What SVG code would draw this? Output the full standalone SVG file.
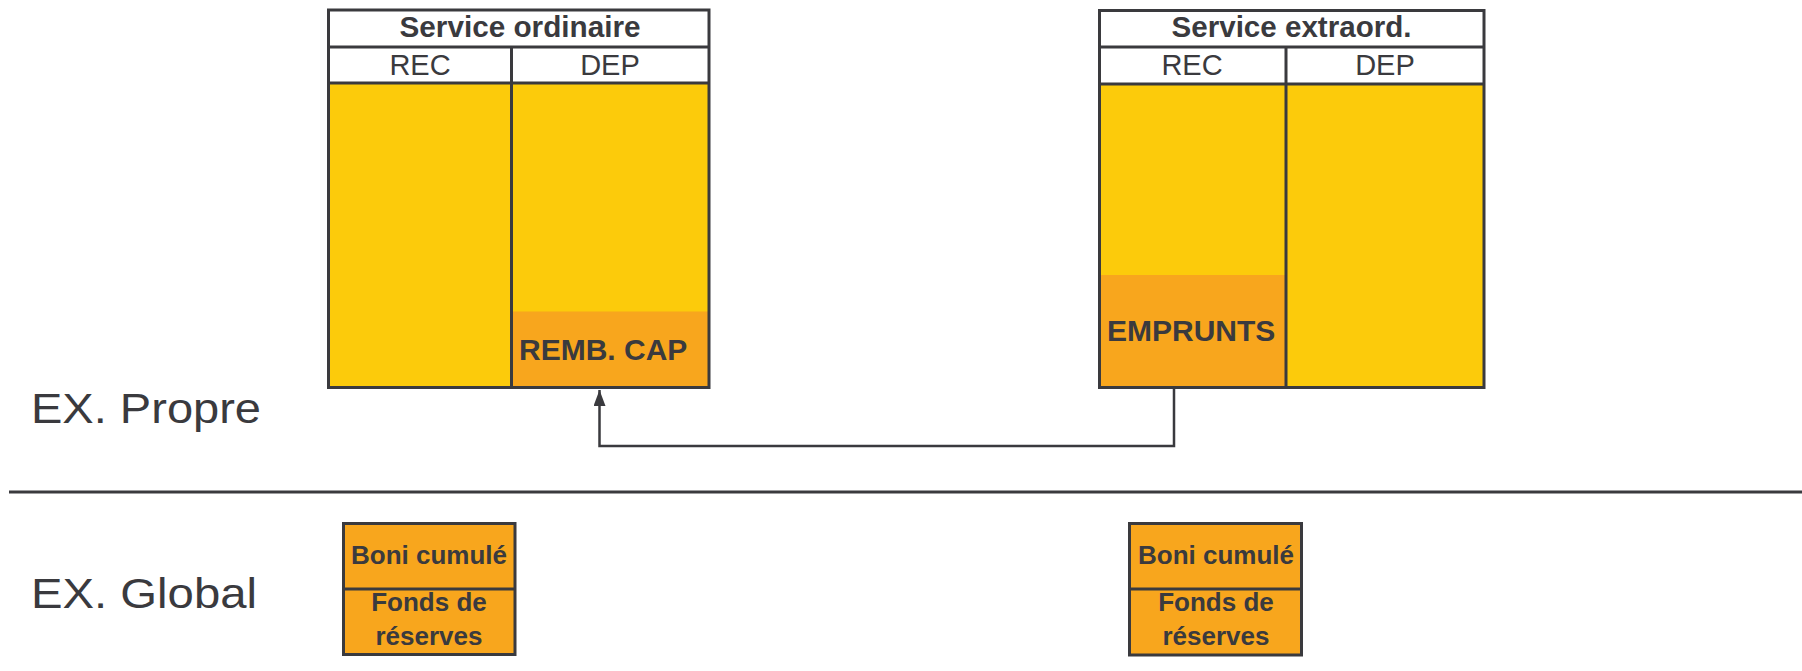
<svg xmlns="http://www.w3.org/2000/svg" width="1802" height="671" viewBox="0 0 1802 671">
  <style>
    .frame { fill: none; stroke: #3a3a3e; stroke-width: 3; }
    .rule { stroke: #3a3a3e; stroke-width: 3; }
    .yellow { fill: #fccb0b; }
    .orange { fill: #f8a61d; }
    .head { fill: #ffffff; }
    text { font-family: "Liberation Sans", Arial, sans-serif; fill: #3a3a3e; }
    .title { font-size: 29px; font-weight: bold; text-anchor: middle; }
    .col { font-size: 29px; text-anchor: middle; }
    .big { font-size: 30px; font-weight: bold; }
    .small { font-size: 26px; font-weight: bold; text-anchor: middle; }
    .side { font-size: 43px; }
    .conn { fill: none; stroke: #3a3a3e; stroke-width: 2.5; }
  </style>
  <defs>
    <marker id="arrow" viewBox="0 0 16 12" refX="16" refY="6" markerWidth="16" markerHeight="12" markerUnits="userSpaceOnUse" orient="auto">
      <path d="M0,0 L16,6 L0,12 Z" fill="#3a3a3e"/>
    </marker>
  </defs>

  <rect x="0" y="0" width="1802" height="671" fill="#ffffff"/>

  <!-- section labels and divider -->
  <g id="label-propre">
    <text class="side" x="31" y="423" textLength="230" lengthAdjust="spacingAndGlyphs">EX. Propre</text>
  </g>
  <g id="label-global">
    <text class="side" x="31" y="608" textLength="226" lengthAdjust="spacingAndGlyphs">EX. Global</text>
  </g>
  <g id="separator">
    <line class="rule" x1="9" y1="492" x2="1802" y2="492" stroke-width="2.5"/>
  </g>

  <!-- ordinary service table -->
  <g id="service-ordinaire">
    <rect class="head" x="328.5" y="10" width="380.5" height="73"/>
    <rect class="yellow" x="328.5" y="83" width="380.5" height="304.5"/>
    <rect class="orange" x="511.5" y="311.5" width="197.5" height="76"/>
    <line class="rule" x1="328.5" y1="47" x2="709" y2="47"/>
    <line class="rule" x1="328.5" y1="83" x2="709" y2="83"/>
    <line class="rule" x1="511.5" y1="47" x2="511.5" y2="387.5"/>
    <rect class="frame" x="328.5" y="10" width="380.5" height="377.5"/>
    <text class="title" x="520" y="37" textLength="241" lengthAdjust="spacingAndGlyphs">Service ordinaire</text>
    <text class="col" x="420" y="75">REC</text>
    <text class="col" x="610" y="75">DEP</text>
    <text class="big" x="519" y="360">REMB. CAP</text>
  </g>

  <!-- extraordinary service table -->
  <g id="service-extraordinaire">
    <rect class="head" x="1099.5" y="10.5" width="384.5" height="73.5"/>
    <rect class="yellow" x="1099.5" y="84" width="384.5" height="303.5"/>
    <rect class="orange" x="1099.5" y="275" width="186.5" height="112.5"/>
    <line class="rule" x1="1099.5" y1="47" x2="1484" y2="47"/>
    <line class="rule" x1="1099.5" y1="84" x2="1484" y2="84"/>
    <line class="rule" x1="1286" y1="47" x2="1286" y2="387.5"/>
    <rect class="frame" x="1099.5" y="10.5" width="384.5" height="377"/>
    <text class="title" x="1291.5" y="37" textLength="240" lengthAdjust="spacingAndGlyphs">Service extraord.</text>
    <text class="col" x="1192" y="75">REC</text>
    <text class="col" x="1385" y="75">DEP</text>
    <text class="big" x="1107" y="341">EMPRUNTS</text>
  </g>

  <!-- global reserve boxes -->
  <g id="global-ordinaire">
    <rect class="orange" x="343.5" y="523.5" width="171.5" height="131"/>
    <line class="rule" x1="343.5" y1="589" x2="515" y2="589"/>
    <rect class="frame" x="343.5" y="523.5" width="171.5" height="131"/>
    <text class="small" x="429" y="564">Boni cumulé</text>
    <text class="small" x="429" y="611">Fonds de</text>
    <text class="small" x="429" y="645">réserves</text>
  </g>
  <g id="global-extraordinaire">
    <rect class="orange" x="1129.5" y="523.5" width="172" height="131.5"/>
    <line class="rule" x1="1129.5" y1="589" x2="1301.5" y2="589"/>
    <rect class="frame" x="1129.5" y="523.5" width="172" height="131.5"/>
    <text class="small" x="1216" y="564">Boni cumulé</text>
    <text class="small" x="1216" y="611">Fonds de</text>
    <text class="small" x="1216" y="645">réserves</text>
  </g>

  <!-- loans feed capital repayment -->
  <g id="connectors">
    <path class="conn" d="M1174,389 L1174,446 L599.5,446 L599.5,390" marker-end="url(#arrow)"/>
  </g>
</svg>
